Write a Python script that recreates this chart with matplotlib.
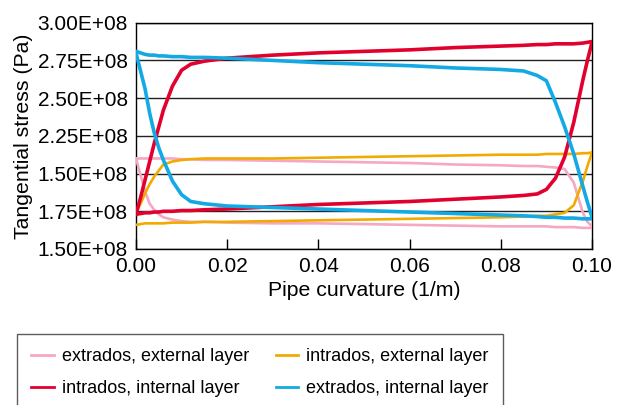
import matplotlib
matplotlib.use("Agg")
import matplotlib.pyplot as plt
import numpy as np

plt.rcParams['font.family'] = ['Liberation Sans', 'DejaVu Sans']

# Pipe curvature (1/m)
curvature = [0, 0.001, 0.002, 0.003, 0.004, 0.005, 0.006, 0.008, 0.010, 0.012, 0.015,
             0.02, 0.03, 0.04, 0.05, 0.06, 0.07, 0.08, 0.085, 0.088, 0.090, 0.092,
             0.094, 0.096, 0.098, 0.099, 0.1]

# Tangential stress, in units of 1e8 Pa
extrados_ext_a = [2.10, 2.10, 2.10, 2.10, 2.10, 2.10, 2.10, 2.10, 2.095, 2.095, 2.09,
                  2.09, 2.085, 2.08, 2.075, 2.07, 2.06, 2.055, 2.05, 2.05, 2.045, 2.04,
                  2.03, 1.94, 1.74, 1.68, 1.65]
extrados_ext_b = [2.10, 1.99, 1.88, 1.80, 1.76, 1.73, 1.71, 1.695, 1.685, 1.68, 1.68,
                  1.675, 1.67, 1.67, 1.665, 1.66, 1.655, 1.65, 1.65, 1.65, 1.65, 1.645,
                  1.645, 1.645, 1.64, 1.64, 1.64]
intrados_ext_a = [1.74, 1.80, 1.87, 1.93, 1.98, 2.02, 2.06, 2.08, 2.09, 2.095, 2.10,
                  2.10, 2.10, 2.105, 2.11, 2.115, 2.12, 2.125, 2.125, 2.125, 2.13, 2.13,
                  2.13, 2.13, 2.135, 2.135, 2.14]
intrados_ext_b = [1.66, 1.665, 1.67, 1.67, 1.67, 1.67, 1.67, 1.675, 1.675, 1.675, 1.68,
                  1.68, 1.685, 1.69, 1.695, 1.70, 1.705, 1.71, 1.715, 1.72, 1.72, 1.73,
                  1.74, 1.79, 1.95, 2.05, 2.14]
intrados_int_a = [1.73, 1.84, 1.96, 2.08, 2.20, 2.31, 2.42, 2.58, 2.685, 2.725, 2.745,
                  2.765, 2.785, 2.80, 2.81, 2.82, 2.835, 2.845, 2.85, 2.855, 2.855, 2.86,
                  2.86, 2.86, 2.865, 2.87, 2.875]
intrados_int_b = [1.73, 1.735, 1.74, 1.74, 1.745, 1.745, 1.75, 1.75, 1.755, 1.755, 1.76,
                  1.765, 1.78, 1.795, 1.805, 1.815, 1.83, 1.845, 1.855, 1.865, 1.895, 1.97,
                  2.11, 2.34, 2.62, 2.75, 2.87]
extrados_int_a = [2.81, 2.80, 2.79, 2.785, 2.785, 2.78, 2.78, 2.775, 2.775, 2.77, 2.77,
                  2.765, 2.75, 2.735, 2.725, 2.715, 2.70, 2.69, 2.68, 2.65, 2.615, 2.47,
                  2.31, 2.13, 1.915, 1.81, 1.71]
extrados_int_b = [2.80, 2.68, 2.56, 2.40, 2.27, 2.17, 2.09, 1.95, 1.86, 1.815, 1.80,
                  1.785, 1.775, 1.765, 1.755, 1.745, 1.735, 1.725, 1.72, 1.715, 1.71, 1.71,
                  1.705, 1.705, 1.70, 1.70, 1.70]

series_names = ["extrados, external layer", "intrados, internal layer",
                "intrados, external layer", "extrados, internal layer"]
series_colors = ["#f5a8c2", "#e2002f", "#f2aa00", "#12a9e4"]

y_tick_values = [1.50, 1.75, 2.00, 2.25, 2.50, 2.75, 3.00]
y_tick_labels = ["1.50E+08", "1.75E+08", "1.50E+08", "2.25E+08", "2.50E+08",
                 "2.75E+08", "3.00E+08"]
x_tick_values = [0.00, 0.02, 0.04, 0.06, 0.08, 0.10]

fig = plt.figure(figsize=(6.2, 4.05), dpi=100)
ax = fig.add_axes([136/620, 1-249/405, (592-136)/620, (249-22.7)/405])

x = np.array(curvature)
scale = 1e8
pairs = [
    (extrados_ext_a, extrados_ext_b),
    (intrados_int_a, intrados_int_b),
    (intrados_ext_a, intrados_ext_b),
    (extrados_int_a, extrados_int_b),
]
order = [0, 2, 1, 3]
handles = {}
for i in order:
    a, b = pairs[i]
    c = series_colors[i]
    lw = 2.6 if i in (1, 3) else 1.9
    h, = ax.plot(x, np.array(a) * scale, color=c, lw=lw, label=series_names[i], zorder=3,
                 solid_joinstyle='round')
    ax.plot(x, np.array(b) * scale, color=c, lw=lw, zorder=3, solid_joinstyle='round')
    handles[i] = h

ax.set_xlim(0, 0.1)
ax.set_ylim(1.5e8, 3.0e8)
ax.set_yticks(np.array(y_tick_values) * scale)
ax.set_yticklabels(y_tick_labels)
ax.set_xticks(x_tick_values)
ax.set_xticklabels([f"{v:.2f}" for v in x_tick_values])
ax.yaxis.grid(True, color="#222222", lw=1.0, zorder=1)
ax.set_axisbelow(True)
ax.tick_params(axis='both', direction='in', length=7, width=1, labelsize=15, colors='black')
ax.tick_params(axis='y', length=0, pad=6)
ax.tick_params(axis='x', pad=6)
for s in ax.spines.values():
    s.set_color('black')
    s.set_linewidth(1.0)

ax.set_xlabel("Pipe curvature (1/m)", fontsize=15.3, labelpad=3)
ax.set_ylabel("Tangential stress (Pa)", fontsize=15.3, labelpad=3)

leg_handles = [handles[0], handles[1], handles[2], handles[3]]
leg_labels = [series_names[0], series_names[1], series_names[2], series_names[3]]
leg = fig.legend(leg_handles, leg_labels,
                 loc='upper left', bbox_to_anchor=(17/620, 1-334/405), ncol=2,
                 fontsize=13, frameon=True, fancybox=False, borderpad=0.8,
                 labelspacing=0.8, handlelength=1.25, handletextpad=0.45,
                 columnspacing=1.45, borderaxespad=0)
for ln in leg.get_lines():
    ln.set_linewidth(2.0)
leg.get_frame().set_edgecolor('#333333')
leg.get_frame().set_linewidth(1.0)

fig.savefig("out.png", dpi=100)
